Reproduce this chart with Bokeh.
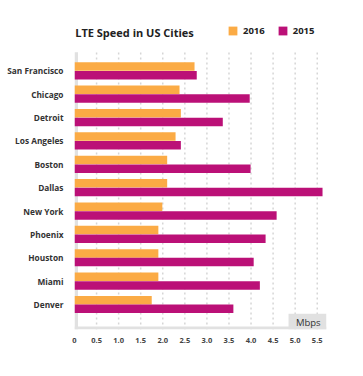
from bokeh.plotting import figure
from bokeh.models import (Range1d, FixedTicker, BoxAnnotation, Label, Legend,
                          LegendItem, ColumnDataSource)
from bokeh.transform import dodge
from bokeh.embed import file_html
from bokeh.resources import INLINE

title_text = "LTE Speed in US Cities"
cities = ["San Francisco", "Chicago", "Detroit", "Los Angeles", "Boston", "Dallas",
          "New York", "Phoenix", "Houston", "Miami", "Denver"]
speed_2016 = [2.72, 2.38, 2.41, 2.29, 2.10, 2.10, 1.99, 1.90, 1.90, 1.90, 1.75]
speed_2015 = [2.77, 3.97, 3.36, 2.41, 3.99, 5.62, 4.58, 4.33, 4.06, 4.20, 3.60]
x_ticks = [0, 0.5, 1.0, 1.5, 2.0, 2.5, 3.0, 3.5, 4.0, 4.5, 5.0, 5.5]
x_tick_labels = ["0", "0.5", "1.0", "1.5", "2.0", "2.5", "3.0", "3.5", "4.0", "4.5", "5.0", "5.5"]
unit_label = "Mbps"
series_names = ["2016", "2015"]

ORANGE = "#fbab45"
MAGENTA = "#bb1077"
GRAY = "#e1e1e1"
FONT = "Open Sans"

n = len(cities)
ypos = list(range(n - 1, -1, -1))
source = ColumnDataSource(dict(city=cities, y=ypos, s16=speed_2016, s15=speed_2015))

x_end = 5.71
y_start, y_end = -1.07, 13.01
grid_top = 10.8

p = figure(width=360, height=372, min_border_left=74, min_border_right=34,
           min_border_top=0, min_border_bottom=43,
           x_range=Range1d(0, x_end), y_range=Range1d(y_start, y_end),
           output_backend="svg", toolbar_location=None, outline_line_color=None)
p.title.visible = False
p.xgrid.visible = False
p.ygrid.visible = False

# dotted vertical grid lines, limited to the plotting area
grid_x = x_ticks[1:]
p.segment(x0=grid_x, x1=grid_x, y0=[y_start] * len(grid_x), y1=[grid_top] * len(grid_x),
          line_color="#d6d6d6", line_width=1.5, line_dash="2 3")

left_band = BoxAnnotation(left=0, right=0.08, bottom=y_start, top=grid_top,
                          fill_color=GRAY, fill_alpha=1, line_color=None, level="underlay")
p.add_layout(left_band)

r16 = p.hbar(y=dodge("y", 0.186), left=0, right="s16", height=0.364, source=source,
             fill_color=ORANGE, line_color=None)
r15 = p.hbar(y=dodge("y", -0.186), left=0, right="s15", height=0.364, source=source,
             fill_color=MAGENTA, line_color=None)

bottom_band = BoxAnnotation(left=0, right=x_end, bottom=y_start, top=y_start + 0.13,
                            fill_color=GRAY, fill_alpha=1, line_color=None)
p.add_layout(bottom_band)
unit_box = BoxAnnotation(left=4.85, right=x_end, bottom=y_start, top=y_start + 0.672,
                         fill_color=GRAY, fill_alpha=1, line_color=None)
p.add_layout(unit_box)
p.add_layout(Label(x=5.296, y=y_start + 0.30, text=unit_label, text_align="center",
                   text_baseline="middle", text_font=FONT, text_font_size="9.5px",
                   text_color="#333333"))

# title
p.add_layout(Label(x=0.016, y=11.644, text=title_text, text_baseline="middle",
                   text_font=FONT, text_font_style="bold", text_font_size="11px",
                   text_color="#222222"))

# axes
xa = p.xaxis[0]
xa.ticker = FixedTicker(ticks=x_ticks)
xa.major_label_overrides = {t: l for t, l in zip(x_ticks, x_tick_labels)}
xa.axis_line_color = None
xa.major_tick_line_color = None
xa.minor_tick_line_color = None
xa.major_tick_out = 0
xa.major_tick_in = 0
xa.minor_tick_out = 0
xa.major_label_standoff = 8
xa.major_label_text_font = FONT
xa.major_label_text_font_style = "bold"
xa.major_label_text_font_size = "7.5px"
xa.major_label_text_color = "#444444"

ya = p.yaxis[0]
ya.ticker = FixedTicker(ticks=ypos)
ya.major_label_overrides = {y: c for y, c in zip(ypos, cities)}
ya.axis_line_color = None
ya.major_tick_line_color = None
ya.minor_tick_line_color = None
ya.major_tick_out = 0
ya.major_tick_in = 0
ya.minor_tick_out = 0
ya.major_label_standoff = 11
ya.major_label_text_font = FONT
ya.major_label_text_font_style = "bold"
ya.major_label_text_font_size = "8.3px"
ya.major_label_text_color = "#333333"

legend = Legend(items=[LegendItem(label=series_names[0], renderers=[r16]),
                       LegendItem(label=series_names[1], renderers=[r15])],
                orientation="horizontal", location=(153, 292), padding=0, margin=0,
                spacing=12, glyph_width=11, glyph_height=11, label_height=11,
                label_standoff=5, border_line_color=None, background_fill_alpha=0,
                label_text_font=FONT, label_text_font_style="bold",
                label_text_font_size="9.5px", label_text_color="#222222")
p.add_layout(legend)

open("out.html", "w").write(file_html(p, INLINE))
